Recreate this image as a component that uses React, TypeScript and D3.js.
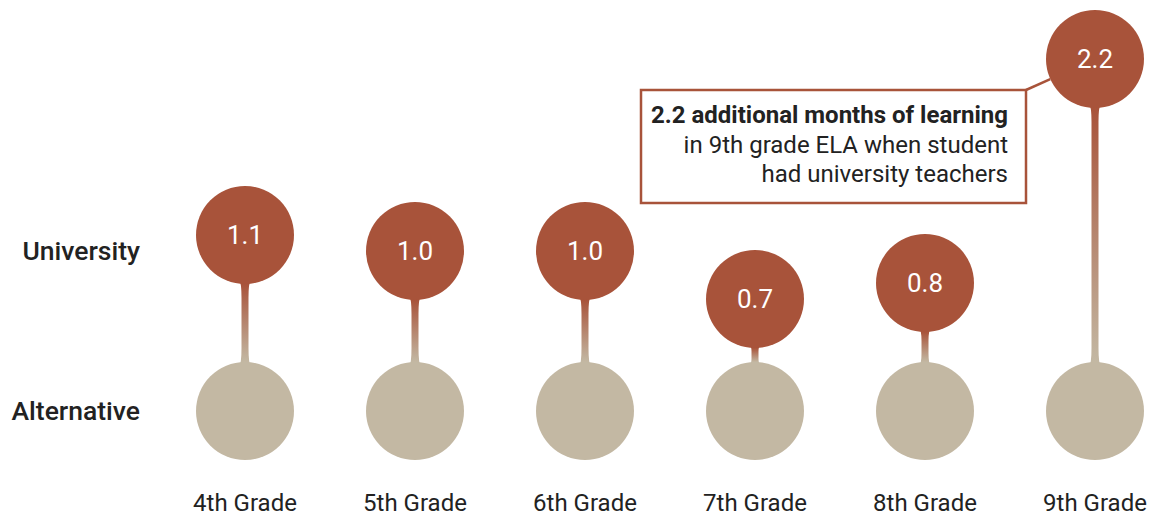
import React from "react";
import * as d3 from "d3";

const grades = ["4th Grade", "5th Grade", "6th Grade", "7th Grade", "8th Grade", "9th Grade"];
const universityValues = [1.1, 1.0, 1.0, 0.7, 0.8, 2.2];
const rowLabels = ["University", "Alternative"];
const annotationLines = [
  "2.2 additional months of learning",
  "in 9th grade ELA when student",
  "had university teachers",
];

const BROWN = "#a8533a";
const TAN = "#c3b8a3";
const TEXT = "#222222";

export default function App() {
  const W = 1151;
  const H = 516;
  const R = 49;
  const x = d3.scalePoint<string>().domain(grades).range([245, 1095]);
  const y = d3.scaleLinear().domain([0, 2.2]).range([411, 59]);
  const font = "Roboto, 'Noto Sans', sans-serif";

  const stemPath = (cx: number, y1: number, y2: number) => {
    const wEnd = 6;
    const wMid = 3.5;
    const flare = Math.min(18, (y2 - y1) / 3);
    const p = d3.path();
    p.moveTo(cx - wEnd, y1);
    p.lineTo(cx + wEnd, y1);
    p.quadraticCurveTo(cx + wMid, y1 + 2, cx + wMid, y1 + flare);
    p.lineTo(cx + wMid, y2 - flare);
    p.quadraticCurveTo(cx + wMid, y2 - 2, cx + wEnd, y2);
    p.lineTo(cx - wEnd, y2);
    p.quadraticCurveTo(cx - wMid, y2 - 2, cx - wMid, y2 - flare);
    p.lineTo(cx - wMid, y1 + flare);
    p.quadraticCurveTo(cx - wMid, y1 + 2, cx - wEnd, y1);
    p.closePath();
    return p.toString();
  };

  const boxRight = 1026;
  const boxTop = 90;
  const last = grades.length - 1;
  const topCx = x(grades[last])!;
  const topCy = y(universityValues[last]);
  const ang = Math.atan2(boxTop - topCy, boxRight - topCx);

  return (
    <div style={{ position: "fixed", left: 0, top: 0, width: W, height: H, overflow: "hidden", background: "white" }}>
      <svg width={W} height={H} style={{ display: "block", fontFamily: font }}>
        <defs>
          {grades.map((g, i) => (
            <linearGradient
              key={g}
              id={`grad${i}`}
              gradientUnits="userSpaceOnUse"
              x1={0}
              x2={0}
              y1={y(universityValues[i]) + R}
              y2={y(0) - R}
            >
              <stop offset="0%" stopColor={BROWN} />
              <stop offset="100%" stopColor={TAN} />
            </linearGradient>
          ))}
        </defs>

        {/* annotation connector */}
        <line
          x1={boxRight}
          y1={boxTop}
          x2={topCx + R * Math.cos(ang)}
          y2={topCy + R * Math.sin(ang)}
          stroke={BROWN}
          strokeWidth={2.5}
        />
        <rect x={641} y={boxTop} width={boxRight - 641} height={113} fill="white" stroke={BROWN} strokeWidth={2.5} />
        {annotationLines.map((t, i) => (
          <text
            key={i}
            x={1008}
            y={123 + i * 29.5}
            textAnchor="end"
            fontSize={24}
            fontWeight={i === 0 ? 700 : 400}
            fill={TEXT}
          >
            {t}
          </text>
        ))}

        {grades.map((g, i) => {
          const cx = x(g)!;
          const cu = y(universityValues[i]);
          const ca = y(0);
          return (
            <g key={g}>
              <path d={stemPath(cx, cu + R - 4, ca - R + 4)} fill={`url(#grad${i})`} />
              <circle cx={cx} cy={ca} r={R} fill={TAN} />
              <circle cx={cx} cy={cu} r={R} fill={BROWN} />
              <text x={cx} y={cu} dy="0.35em" textAnchor="middle" fontSize={26} fill="white">
                {universityValues[i].toFixed(1)}
              </text>
              <text x={cx} y={511} textAnchor="middle" fontSize={24} fill={TEXT}>
                {g}
              </text>
            </g>
          );
        })}

        {rowLabels.map((lbl, i) => (
          <text
            key={lbl}
            x={140}
            y={i === 0 ? y(1.0) : y(0)}
            dy="0.35em"
            textAnchor="end"
            fontSize={26.5}
            fontWeight={500}
            fill={TEXT}
          >
            {lbl}
          </text>
        ))}
      </svg>
    </div>
  );
}
